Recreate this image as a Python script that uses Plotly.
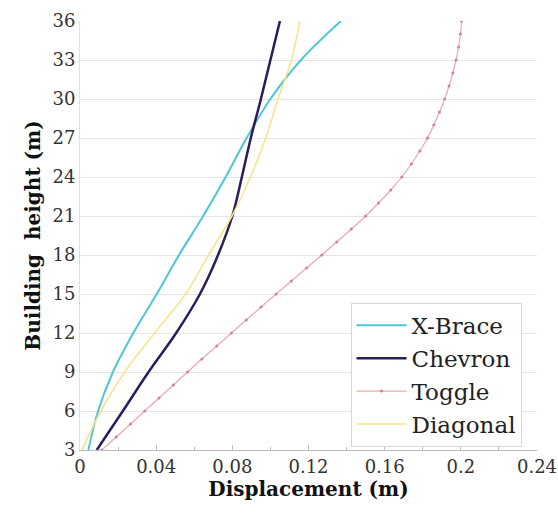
import plotly.graph_objects as go

heights = [3, 6, 9, 12, 15, 18, 21, 24, 27, 30, 33, 36]
xbrace = [0.0044, 0.0095, 0.0173, 0.0280, 0.0403, 0.0520, 0.0647, 0.0765, 0.0875, 0.1000, 0.1160, 0.1370]
chevron = [0.0088, 0.0225, 0.0360, 0.0505, 0.0630, 0.0725, 0.0800, 0.0850, 0.0897, 0.0950, 0.1000, 0.1050]
diagonal = [0.0010, 0.0110, 0.0235, 0.0392, 0.0555, 0.0675, 0.0798, 0.0895, 0.0975, 0.1040, 0.1110, 0.1155]

toggle_h = list(range(3, 37))
toggle = [0.0115, 0.0190, 0.0265, 0.0340, 0.0415, 0.0490, 0.0565, 0.0640, 0.0718, 0.0795,
          0.0873, 0.0951, 0.1030, 0.1110, 0.1190, 0.1270, 0.1348, 0.1425, 0.1500, 0.1568,
          0.1632, 0.1690, 0.1740, 0.1785, 0.1825, 0.1858, 0.1888, 0.1915, 0.1938, 0.1958,
          0.1975, 0.1988, 0.1998, 0.2004]

xticks = [0, 0.04, 0.08, 0.12, 0.16, 0.2, 0.24]
xticklabels = ["0", "0.04", "0.08", "0.12", "0.16", "0.2", "0.24"]
yticks = [3, 6, 9, 12, 15, 18, 21, 24, 27, 30, 33, 36]

serif = "DejaVu Serif"

fig = go.Figure()
fig.add_trace(go.Scatter(x=xbrace, y=heights, name="X-Brace", mode="lines",
                         line=dict(color="#4EC6D6", width=2, shape="spline")))
fig.add_trace(go.Scatter(x=chevron, y=heights, name="Chevron", mode="lines",
                         line=dict(color="#2C1C5C", width=2.5, shape="spline")))
fig.add_trace(go.Scatter(x=toggle, y=toggle_h, name="Toggle", mode="lines+markers",
                         line=dict(color="#EDA8AE", width=1.2, shape="spline"),
                         marker=dict(color="#CF848C", size=3, symbol="circle")))
fig.add_trace(go.Scatter(x=diagonal, y=heights, name="Diagonal", mode="lines",
                         line=dict(color="#F6E48E", width=1.6, shape="spline")))

fig.update_layout(
    width=558, height=520,
    margin=dict(l=80, r=21, t=21, b=70),
    paper_bgcolor="white", plot_bgcolor="white",
    font=dict(family=serif, color="#222222", size=18),
    showlegend=True,
    legend=dict(x=0.592, y=0.343, xanchor="left", yanchor="top",
                bordercolor="#D8D8D8", borderwidth=1, bgcolor="white",
                font=dict(family=serif, size=23, color="#222222"),
                tracegroupgap=0, itemwidth=50),
    xaxis=dict(range=[0, 0.24], tickvals=xticks, ticktext=xticklabels, automargin=False,
               showgrid=False, zeroline=False, showline=True, linecolor="#BDBDBD", linewidth=1,
               ticks="inside", ticklen=5, tickcolor="#BDBDBD",
               minor=dict(dtick=0.02, ticks="inside", ticklen=3, tickcolor="#BDBDBD"),
               tickfont=dict(family=serif, size=18, color="#333333"),
               title=dict(text="<b>Displacement (m)</b>", font=dict(family=serif, size=20, color="#111111"), standoff=4)),
    yaxis=dict(range=[3, 36], tickvals=yticks, automargin=False,
               showgrid=True, gridcolor="#E6E6E6", gridwidth=1,
               zeroline=False, showline=True, linecolor="#E0E0E0", linewidth=1,
               ticks="", tickfont=dict(family=serif, size=18, color="#333333"),
               title=dict(text="<b>Building  height (m)</b>", font=dict(family=serif, size=20, color="#111111"), standoff=6)),
)

fig.write_html("out.html")
